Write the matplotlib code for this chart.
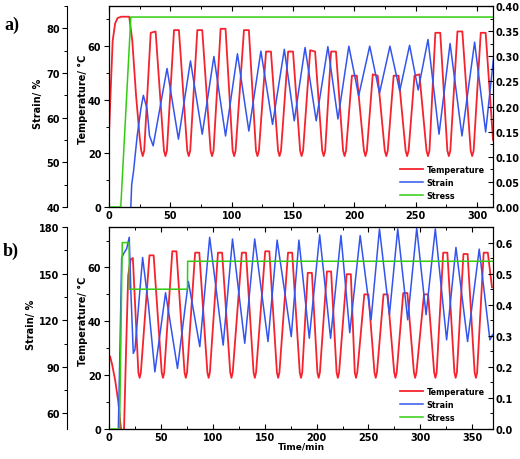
import matplotlib
matplotlib.use("Agg")
import matplotlib.pyplot as plt
from matplotlib.ticker import MultipleLocator, FormatStrFormatter

# ---- panel a) data (read off the figure) ----
t_temp_a = [0, 1.5, 3, 5, 7, 10, 16.5, 19, 22, 25,
            26.3, 27.5, 28.7, 34, 38,
            44.8, 46, 47.2, 53, 57,
            63.8, 65, 66.2, 72, 76,
            82.8, 84, 85.2, 91, 95,
            100.8, 102, 103.2, 110, 114,
            119.8, 121, 122.2, 128, 132,
            137.8, 139, 140.2, 146, 150,
            155.8, 157, 158.2, 164, 168,
            173.8, 175, 176.2, 181, 185,
            190.8, 192, 193.2, 198, 202,
            207.8, 209, 210.2, 215, 219,
            224.8, 226, 227.2, 232, 236,
            241.8, 243, 244.2, 249, 253,
            258.8, 260, 261.2, 266, 270,
            275.8, 277, 278.2, 284, 288,
            294.8, 296, 297.2, 303, 307,
            313]
temp_a = [27, 45, 62, 68.5, 70.5, 71, 71, 62, 42, 26,
          21, 19, 21, 65, 65.5,
          21, 19, 21, 66, 66,
          21, 19, 21, 66, 66,
          21, 19, 21, 66.5, 66.5,
          21, 19, 21, 66, 66,
          21, 19, 21, 58, 58,
          21, 19, 21, 58, 58,
          21, 19, 21, 58.5, 58,
          21, 19, 21, 58, 58,
          21, 19, 21, 49, 49,
          21, 19, 21, 49.5, 49,
          21, 19, 21, 49, 49,
          21, 19, 21, 49, 49.5,
          21, 19, 21, 65, 65,
          21, 19, 21, 65.5, 65.5,
          21, 19, 21, 65, 65,
          25]

t_strain_a = [17.8, 18.5, 20, 23, 26, 28, 31, 33, 36,
              47.3, 56.6, 66.4, 76, 85.5, 95, 104.7, 114, 123.8, 133.3,
              142.9, 151, 159.8, 168.9, 178.4, 186.6, 195.5, 203.5, 212.5, 220.5,
              229, 237, 245, 252, 260, 269, 278, 287.7, 298, 307,
              313.6]
strain_a = [40, 45, 48, 56, 62, 65, 62, 56, 53.7,
            71, 55.2, 72.7, 56.3, 73.7, 55.9, 74.3, 57, 74.9, 58.5,
            75.3, 59.3, 75.7, 59.3, 75.9, 59.7, 76, 64.9, 76, 65.5,
            76, 66, 76.2, 66.2, 77.5, 56.3, 76.6, 55.9, 76.9, 56.8,
            73.8]

t_stress_a = [0, 9.6, 17.8, 313]
stress_a = [0, 0, 0.378, 0.378]

# ---- panel b) data ----
t_temp_b = [0, 1, 3, 6, 9, 11, 12.5, 14.5, 16.5, 18.5, 20, 21, 23,
            28.3, 29.5, 30.7, 39, 43,
            50.8, 52, 53.2, 61, 65,
            72.8, 74, 75.2, 83, 87,
            94.8, 96, 97.2, 105, 109,
            116.8, 118, 119.2, 128, 132,
            139.3, 140.5, 141.7, 150.5, 154.5,
            161.8, 163, 164.2, 172.5, 176.5,
            183.8, 185, 186.2, 191.5, 195.5,
            200.8, 202, 203.2, 210, 214,
            219.3, 220.5, 221.7, 229, 233,
            236.8, 238, 239.2, 246, 250,
            255.8, 257, 258.2, 264.5, 268.5,
            274.8, 276, 277.2, 283.5, 287.5,
            293.8, 295, 296.2, 303.5, 307.5,
            313.3, 314.5, 315.7, 322, 326,
            332.8, 334, 335.2, 341.5, 345.5,
            352.3, 353.5, 354.7, 361, 365,
            369]
temp_b = [27, 27, 24, 18, 10, 2, -3, 0, 30, 57, 61, 63, 63.5,
          21, 19, 21, 64.5, 64.5,
          21, 19, 21, 66, 66,
          21, 19, 21, 65.5, 65.5,
          21, 19, 21, 65.5, 65.5,
          21, 19, 21, 65.5, 65.5,
          21, 19, 21, 66, 66,
          21, 19, 21, 65.5, 65.5,
          21, 19, 21, 58, 58,
          21, 19, 21, 58.5, 58.5,
          21, 19, 21, 57.5, 57.5,
          21, 19, 21, 50, 50,
          21, 19, 21, 50, 50,
          21, 19, 21, 50.5, 50.5,
          21, 19, 21, 50, 50,
          21, 19, 21, 65.5, 65.5,
          21, 19, 21, 65, 65,
          21, 19, 21, 65.5, 65.5,
          52.6]

t_strain_b = [9, 10.5, 12.2, 13.5, 15, 17, 19.5, 21, 23.4, 25,
              32.4, 38, 44.2, 54.5, 66, 76.5, 87.5, 97, 110, 119,
              130.8, 140.4, 153.2, 162, 175.6, 183, 193, 203, 213.5, 223.5,
              232, 242, 252.5, 260.6, 270.2, 278.2, 287.8, 296.5, 305.5, 314.4,
              325.3, 334.3, 345.5, 356.7, 367, 369.5]
strain_b = [50, 100, 160, 162, 164, 166, 173.4, 140, 98.7, 101,
            160.4, 130, 86.8, 137.7, 89, 145, 103, 173.4, 104, 172.3,
            105.2, 172.3, 106.3, 171.6, 109.5, 171.6, 108.4, 175, 108.4, 174.6,
            112, 174.5, 120.3, 178.8, 123.6, 178.8, 120.3, 179.2, 123.6, 178.8,
            107.4, 166.9, 106.3, 165.8, 107.4, 110.6]

t_stress_b = [0, 10.2, 12.8, 19.4, 19.6, 75.6, 75.8, 370]
stress_b = [0, 0, 0.60, 0.60, 0.45, 0.45, 0.54, 0.54]

legend_labels = ["Temperature", "Strain", "Stress"]

RED = "#f5232d"
BLUE = "#3355ee"
GREEN = "#33cc11"

plt.rcParams["font.family"] = "DejaVu Sans"
plt.rcParams["font.weight"] = "bold"
plt.rcParams["axes.labelweight"] = "bold"
plt.rcParams["font.size"] = 7

fig = plt.figure(figsize=(5.2, 4.6), dpi=100)


def panel(rect, t_temp, temp, t_strain, strain, t_stress, stress, xmax,
          strain_lim, strain_step, stress_lim, stress_step, stress_fmt,
          strain_label_x, show_xlabel):
    ax = fig.add_axes(rect)
    ax_s = ax.twinx()
    ax_p = ax.twinx()

    l1, = ax.plot(t_temp, temp, color=RED, lw=1.3, solid_joinstyle="round")
    l2, = ax_s.plot(t_strain, strain, color=BLUE, lw=1.1, solid_joinstyle="round")
    l3, = ax_p.plot(t_stress, stress, color=GREEN, lw=1.1)

    ax.set_xlim(0, xmax)
    ax.set_ylim(0, 75)
    ax_s.set_ylim(*strain_lim)
    ax_p.set_ylim(*stress_lim)

    # outer strain axis on the left
    ax_s.spines["left"].set_position(("outward", 30))
    ax_s.spines["left"].set_visible(True)
    ax_s.spines["right"].set_visible(False)
    ax_s.yaxis.set_ticks_position("left")
    ax_s.yaxis.set_label_position("left")

    for a in (ax, ax_s, ax_p):
        for sp in a.spines.values():
            sp.set_linewidth(0.8)

    ax.xaxis.set_major_locator(MultipleLocator(50))
    ax.xaxis.set_minor_locator(MultipleLocator(25))
    ax.yaxis.set_major_locator(MultipleLocator(20))
    ax.yaxis.set_minor_locator(MultipleLocator(10))
    ax_s.yaxis.set_major_locator(MultipleLocator(strain_step))
    ax_s.yaxis.set_minor_locator(MultipleLocator(strain_step / 2))
    ax_p.yaxis.set_major_locator(MultipleLocator(stress_step))
    ax_p.yaxis.set_minor_locator(MultipleLocator(stress_step / 2))
    ax_p.yaxis.set_major_formatter(FormatStrFormatter(stress_fmt))

    ax.tick_params(axis="x", which="both", direction="in", top=True, bottom=True)
    ax.tick_params(axis="y", which="both", direction="out", left=True, right=False)
    ax_s.tick_params(axis="y", which="both", direction="out")
    ax_p.tick_params(axis="y", which="both", direction="in")
    for a in (ax, ax_s, ax_p):
        a.tick_params(which="major", length=3.5, width=0.8, pad=2)
        a.tick_params(which="minor", length=2, width=0.7)

    ax.set_ylabel("Temperature/ °C")
    ax.yaxis.set_label_coords(-0.055, 0.54)
    ax_s.set_ylabel("Strain/ %")
    ax_s.yaxis.set_label_coords(strain_label_x, 0.52)
    if show_xlabel:
        ax.set_xlabel("Time/min", labelpad=0, fontsize=6.5)

    ax_p.legend([l1, l2, l3], legend_labels, loc="lower right",
                bbox_to_anchor=(0.978, 0.035), frameon=False, fontsize=5.8,
                borderaxespad=0, borderpad=0,
                handlelength=2.9, handletextpad=0.4, labelspacing=0.52)
    return ax


panel([0.2096, 0.5478, 0.7385, 0.437], t_temp_a, temp_a, t_strain_a, strain_a,
      t_stress_a, stress_a, 313, (40, 85), 10, (0, 0.40), 0.05, "%.2f",
      -0.172, False)
panel([0.2096, 0.0652, 0.7385, 0.439], t_temp_b, temp_b, t_strain_b, strain_b,
      t_stress_b, stress_b, 370, (50, 180), 30, (0, 0.65), 0.1, "%.1f",
      -0.19, True)

fig.text(4 / 520, 1 - 25 / 460, "a)", family="Liberation Serif", weight="bold",
         fontsize=13, va="center", ha="left")
fig.text(3 / 520, 1 - 251 / 460, "b)", family="Liberation Serif", weight="bold",
         fontsize=13, va="center", ha="left")

fig.savefig("out.png", dpi=100, facecolor="white")
